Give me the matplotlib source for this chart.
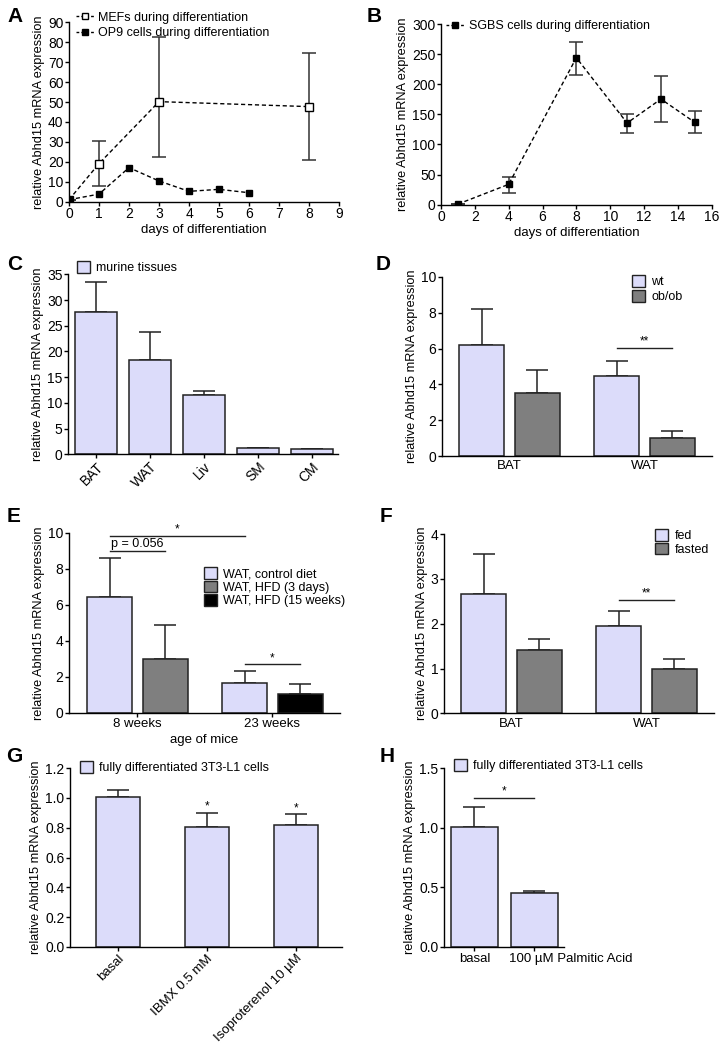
"""
Abhd15 mRNA expression, 8-panel figure (A-H).
"""

import matplotlib
matplotlib.use("Agg")
import matplotlib.pyplot as plt
from matplotlib.patches import Patch
from matplotlib.lines import Line2D
from matplotlib.transforms import ScaledTranslation
import numpy as np

# --- A: differentiation time courses ---
A_MEF_DAYS = [0, 1, 3, 8]
A_MEF_MEAN = [1.0, 19.1, 50.2, 47.7]
A_MEF_LOW = [1.0, 8.0, 22.2, 21.1]
A_MEF_HIGH = [1.0, 30.4, 82.8, 74.4]
A_OP9_DAYS = [0, 1, 2, 3, 4, 5, 6]
A_OP9_MEAN = [1.0, 3.8, 17.1, 10.4, 5.2, 6.2, 4.5]

# --- B: SGBS cells ---
B_DAYS = [1, 4, 8, 11, 13, 15]
B_MEAN = [1.0, 33.8, 244.0, 135.6, 175.4, 136.7]
B_LOW = [1.0, 19.9, 215.8, 119.5, 137.2, 119.0]
B_HIGH = [1.0, 45.4, 270.6, 150.5, 213.6, 155.0]

# --- C: murine tissues ---
C_TISSUES = ["BAT", "WAT", "Liv", "SM", "CM"]
C_MEAN = [27.7, 18.3, 11.6, 1.17, 0.97]
C_ERR = [5.9, 5.5, 0.7, 0.1, 0.1]

# --- D: wt vs ob/ob ---
D_GROUPS = ["BAT", "WAT"]
D_WT = [6.18, 4.49]
D_WT_ERR = [2.05, 0.80]
D_OB = [3.52, 1.00]
D_OB_ERR = [1.27, 0.40]

# --- E: diet ---
E_GROUPS = ["8 weeks", "23 weeks"]
E_CTRL = [6.43, 1.63]
E_CTRL_ERR = [2.20, 0.68]
E_HFD3 = 2.98
E_HFD3_ERR = 1.89
E_HFD15 = 1.02
E_HFD15_ERR = 0.57

# --- F: fed vs fasted ---
F_GROUPS = ["BAT", "WAT"]
F_FED = [2.67, 1.95]
F_FED_ERR = [0.89, 0.34]
F_FAST = [1.42, 1.00]
F_FAST_ERR = [0.23, 0.21]

# --- G: 3T3-L1 treatments ---
G_LABELS = ["basal", "IBMX 0.5 mM", "Isoproterenol 10 \u00b5M"]
G_MEAN = [1.003, 0.804, 0.816]
G_ERR = [0.052, 0.094, 0.073]

# --- H: palmitic acid ---
H_LABELS = ["basal", "100 \u00b5M Palmitic Acid"]
H_MEAN = [1.003, 0.45]
H_ERR = [0.17, 0.019]

LIGHT = "#DCDCFA"
GREY = "#7F7F7F"
BLACK = "#000000"
EDGE = "#222222"

W, H = 728, 1057
YLABEL = "relative Abhd15 mRNA expression"
TICK_FS = 10
LEG_FS = 9
LAB_FS = 9.5


def px_axes(fig, left, top, right, bottom):
    return fig.add_axes([left / W, 1 - bottom / H, (right - left) / W, (bottom - top) / H])


def px_legend(ax, fig, handles, labels, x, y, **kw):
    opts = dict(loc="upper left", bbox_to_anchor=(x / W, 1 - y / H),
                bbox_transform=fig.transFigure, frameon=False, borderpad=0,
                borderaxespad=0, fontsize=LEG_FS, handletextpad=0.5,
                labelspacing=0.15)
    opts.update(kw)
    ax.legend(handles, labels, **opts)


def style(ax):
    ax.spines["top"].set_visible(False)
    ax.spines["right"].set_visible(False)
    for s in ("left", "bottom"):
        ax.spines[s].set_linewidth(1.0)
    ax.tick_params(direction="out", length=3, width=1.0, labelsize=TICK_FS, pad=1.0)
    ax.set_ylabel(YLABEL, fontsize=9.2, labelpad=2)


def bars(ax, x, h, err, color, width):
    ax.bar(x, h, width, color=color, edgecolor=EDGE, linewidth=1.1, zorder=2)
    ax.errorbar(x, h, yerr=[np.zeros(len(h)), err], fmt="none", ecolor=EDGE,
                elinewidth=1.1, capsize=8, capthick=1.1, zorder=1)


def sig(ax, x0, x1, y, text, dy, fs=8.5):
    ax.plot([x0, x1], [y, y], color=EDGE, lw=1.0)
    ax.text((x0 + x1) / 2, y + dy, text, ha="center", va="bottom", fontsize=fs)


def patch(c):
    return Patch(facecolor=c, edgecolor=EDGE, linewidth=1.0)


def main():
    plt.rcParams.update({
        "font.family": ["Liberation Sans", "DejaVu Sans"],
    })
    fig = plt.figure(figsize=(W / 100, H / 100), dpi=100)

    # ---------------- A ----------------
    ax = px_axes(fig, 69, 22.3, 339, 201.7)
    style(ax)
    m = np.array(A_MEF_MEAN)
    ax.errorbar(A_MEF_DAYS, m, yerr=[m - np.array(A_MEF_LOW), np.array(A_MEF_HIGH) - m],
                fmt="none", ecolor="#333333", elinewidth=1.1, capsize=5, capthick=1.1)
    ax.plot(A_MEF_DAYS, A_MEF_MEAN, ls=(0, (3, 2)), color=BLACK, lw=1.0,
            marker="s", ms=5.5, mfc="white", mec=BLACK, mew=1.0, zorder=3)
    ax.plot(A_OP9_DAYS, A_OP9_MEAN, ls=(0, (3, 2)), color=BLACK, lw=1.0,
            marker="s", ms=4, mfc=BLACK, mec=BLACK, zorder=3)
    ax.set_xlim(0, 9)
    ax.set_ylim(0, 90)
    ax.set_xticks(range(10))
    ax.set_yticks(range(0, 91, 10))
    ax.set_xlabel("days of differentiation", fontsize=LAB_FS, labelpad=2)
    h1 = Line2D([], [], ls=(0, (2, 1.5)), color=BLACK, lw=1.0, marker="s", ms=5, mfc="white", mec=BLACK)
    h2 = Line2D([], [], ls=(0, (2, 1.5)), color=BLACK, lw=1.0, marker="s", ms=4, mfc=BLACK)
    px_legend(ax, fig, [h1, h2], ["MEFs during differentiation", "OP9 cells during differentiation"],
              76, 11.5, handlelength=1.4, handletextpad=0.4, labelspacing=0.3)

    # ---------------- B ----------------
    ax = px_axes(fig, 441, 24, 711.7, 204.7)
    style(ax)
    m = np.array(B_MEAN)
    ax.errorbar(B_DAYS, m, yerr=[m - np.array(B_LOW), np.array(B_HIGH) - m],
                fmt="none", ecolor="#333333", elinewidth=1.1, capsize=5, capthick=1.1)
    ax.plot(B_DAYS, B_MEAN, ls=(0, (3, 2)), color=BLACK, lw=1.0,
            marker="s", ms=4.5, mfc=BLACK, mec=BLACK, zorder=3)
    ax.set_xlim(0, 16)
    ax.set_ylim(0, 300)
    ax.set_xticks(range(0, 17, 2))
    ax.set_yticks(range(0, 301, 50))
    ax.set_xlabel("days of differentiation", fontsize=LAB_FS, labelpad=2)
    h3 = Line2D([], [], ls=(0, (2, 1.5)), color=BLACK, lw=1.0, marker="s", ms=4.5, mfc=BLACK)
    px_legend(ax, fig, [h3], ["SGBS cells during differentiation"], 446, 20,
              handlelength=1.4, handletextpad=0.4)

    # ---------------- C ----------------
    ax = px_axes(fig, 68, 274.3, 338, 454.3)
    style(ax)
    xc = np.arange(len(C_TISSUES))
    bars(ax, xc, C_MEAN, C_ERR, LIGHT, 0.78)
    ax.set_xlim(-0.52, 4.48)
    ax.set_ylim(0, 35)
    ax.set_yticks(range(0, 36, 5))
    ax.set_xticks(xc)
    ax.set_xticklabels(C_TISSUES, rotation=45, ha="right", rotation_mode="anchor")
    px_legend(ax, fig, [patch(LIGHT)], ["murine tissues"], 77, 261,
              handlelength=1.05, handleheight=1.05)

    # ---------------- D ----------------
    ax = px_axes(fig, 442, 277, 712, 456)
    style(ax)
    xg = np.arange(2)
    off, bw = 0.207, 0.333
    bars(ax, xg - off, D_WT, D_WT_ERR, LIGHT, bw)
    bars(ax, xg + off, D_OB, D_OB_ERR, GREY, bw)
    sig(ax, 1 - off, 1 + off, 6.01, "**", 0.05)
    ax.set_xlim(-0.5, 1.5)
    ax.set_ylim(0, 10)
    ax.set_yticks(range(0, 11, 2))
    ax.set_xticks(xg)
    ax.set_xticklabels(D_GROUPS)
    ax.tick_params(axis="x", length=0, labelsize=LAB_FS, pad=3)
    px_legend(ax, fig, [patch(LIGHT), patch(GREY)], ["wt", "ob/ob"], 632, 275,
              handlelength=1.05, handleheight=1.05)

    # ---------------- E ----------------
    ax = px_axes(fig, 69, 533, 340, 712.7)
    style(ax)
    bars(ax, xg - off, E_CTRL, E_CTRL_ERR, LIGHT, bw)
    bars(ax, [0 + off], [E_HFD3], [E_HFD3_ERR], GREY, bw)
    bars(ax, [1 + off], [E_HFD15], [E_HFD15_ERR], BLACK, bw)
    sig(ax, -off, 1 - off, 9.83, "*", 0.02)
    sig(ax, -off, off, 9.0, "p = 0.056", 0.05, fs=9)
    sig(ax, 1 - off, 1 + off, 2.69, "*", 0.02)
    ax.set_xlim(-0.507, 1.5)
    ax.set_ylim(0, 10)
    ax.set_yticks(range(0, 11, 2))
    ax.set_xticks(xg)
    ax.set_xticklabels(E_GROUPS)
    ax.tick_params(axis="x", labelsize=LAB_FS)
    ax.set_xlabel("age of mice", fontsize=LAB_FS, labelpad=3)
    px_legend(ax, fig, [patch(LIGHT), patch(GREY), patch(BLACK)],
              ["WAT, control diet", "WAT, HFD (3 days)", "WAT, HFD (15 weeks)"], 204, 567,
              handlelength=1.05, handleheight=1.05, labelspacing=0.05)

    # ---------------- F ----------------
    ax = px_axes(fig, 444, 534, 714, 713.4)
    style(ax)
    bars(ax, xg - off, F_FED, F_FED_ERR, LIGHT, bw)
    bars(ax, xg + off, F_FAST, F_FAST_ERR, GREY, bw)
    sig(ax, 1 - off, 1 + off, 2.53, "**", 0.02)
    ax.set_xlim(-0.5, 1.5)
    ax.set_ylim(0, 4)
    ax.set_yticks(range(0, 5))
    ax.set_xticks(xg)
    ax.set_xticklabels(F_GROUPS)
    ax.tick_params(axis="x", length=0, labelsize=LAB_FS, pad=3)
    px_legend(ax, fig, [patch(LIGHT), patch(GREY)], ["fed", "fasted"], 655, 529,
              handlelength=1.05, handleheight=1.05, labelspacing=0.05)

    # ---------------- G ----------------
    ax = px_axes(fig, 70, 768, 342, 947)
    style(ax)
    xgg = np.arange(len(G_LABELS))
    bars(ax, xgg, G_MEAN, G_ERR, LIGHT, 0.5)
    for i in (1, 2):
        ax.text(xgg[i], G_MEAN[i] + G_ERR[i] + 0.002, "*", ha="center", va="bottom", fontsize=8.5)
    ax.set_xlim(-0.54, 2.52)
    ax.set_ylim(0, 1.2)
    ax.set_yticks(np.arange(0, 1.21, 0.2))
    ax.set_yticklabels([f"{v:.1f}" for v in np.arange(0, 1.21, 0.2)])
    ax.set_xticks(xgg)
    ax.set_xticklabels(G_LABELS, rotation=45, ha="right", rotation_mode="anchor")
    ax.tick_params(axis="x", labelsize=LAB_FS)
    px_legend(ax, fig, [patch(LIGHT)], ["fully differentiated 3T3-L1 cells"], 80, 761,
              handlelength=1.05, handleheight=1.05)

    # ---------------- H ----------------
    ax = px_axes(fig, 444, 768, 564, 947)
    style(ax)
    xh = np.arange(len(H_LABELS))
    bars(ax, xh, H_MEAN, H_ERR, LIGHT, 0.79)
    sig(ax, 0, 1, 1.25, "*", 0.005)
    ax.set_xlim(-0.51, 1.5)
    ax.set_ylim(0, 1.5)
    ax.set_yticks([0, 0.5, 1.0, 1.5])
    ax.set_yticklabels(["0.0", "0.5", "1.0", "1.5"])
    ax.set_xticks(xh)
    ax.set_xticklabels(H_LABELS)
    ax.tick_params(axis="x", labelsize=LAB_FS)
    # long label is pushed right of its tick, as in the original
    lab = ax.get_xticklabels()[1]
    lab.set_transform(lab.get_transform() + ScaledTranslation(0.37, 0, fig.dpi_scale_trans))
    px_legend(ax, fig, [patch(LIGHT)], ["fully differentiated 3T3-L1 cells"], 454, 759,
              handlelength=1.05, handleheight=1.05)

    # panel letters
    letters = [("A", 15, 16), ("B", 374, 16), ("C", 15, 264), ("D", 383, 264),
               ("E", 14, 517), ("F", 386, 517), ("G", 14, 756), ("H", 387, 756)]
    for t, x, y in letters:
        fig.text(x / W, 1 - y / H, t, fontsize=15, fontweight="bold", ha="center", va="center")

    fig.savefig("out.png", dpi=100)
    plt.close(fig)


if __name__ == "__main__":
    main()
